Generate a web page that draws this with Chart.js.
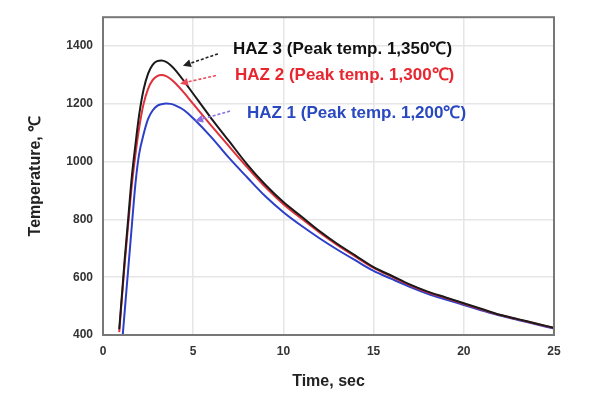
<!DOCTYPE html>
<html>
<head>
<meta charset="utf-8">
<script src="https://cdn.jsdelivr.net/npm/chart.js@4/dist/chart.umd.min.js"></script>
<style>
html,body{margin:0;padding:0;background:#fff;}
#wrap{width:610px;height:402px;position:relative;}
</style>
</head>
<body>
<div id="wrap"><canvas id="c" width="610" height="402"></canvas></div>
<script>
// ---- data ----
const times = [0.9,1.0,1.1,1.2,1.4,1.6,1.8,2.0,2.25,2.5,2.75,3.0,3.25,3.5,3.75,4,4.5,5,6,7,8,9,10,11,12,13,14,15,16,17,18,19,20,21,22,23,24,25];
const haz3 = [420,500,580,660,805,950,1060,1160,1250,1305,1335,1348,1350,1345,1334,1318,1278,1235,1150,1070,990,920,860,810,760,715,675,635,605,575,550,530,510,490,470,455,440,425];
const haz2 = [410,490,568,645,785,920,1025,1115,1200,1252,1282,1296,1300,1296,1286,1272,1238,1200,1125,1052,980,912,853,803,755,711,671,632,602,573,548,528,508,488,469,454,439,424];
const haz1 = [255,330,405,480,630,780,925,1025,1095,1148,1177,1193,1199,1201,1200,1195,1178,1150,1085,1012,945,880,825,778,735,695,658,622,594,567,543,523,504,485,467,452,437,422];
const seriesNames = ["HAZ 3","HAZ 2","HAZ 1"];
const xTicks = [0,5,10,15,20,25];
const yTicks = [400,600,800,1000,1200,1400];

// annotation labels (data coordinates)
const labelTexts = ["HAZ 3 (Peak temp. 1,350\u2103)","HAZ 2 (Peak temp. 1,300\u2103)","HAZ 1 (Peak temp. 1,200\u2103)"];
const labelX = [7.2, 7.32, 7.98];
const labelY = [1390, 1298, 1168];
const arrowFromX = [6.37, 6.26, 7.04];
const arrowFromY = [1373, 1298, 1175];
const arrowToX = [4.43, 4.27, 5.10];
const arrowToY = [1332, 1270, 1141];

const lineColors = ["#1a1a1a","#e0303c","#2b3fc8"];
const textColors = ["#111111","#e8262f","#2a48c0"];
const arrowColors = ["#222222","#e84a5a","#8a6fe0"];

function pts(ys){ return times.map((t,i)=>({x:t,y:ys[i]})); }

const framePlugin = {
  id:'frame',
  afterDatasetsDraw(chart){
    const {ctx, chartArea:a, scales:{x,y}} = chart;
    ctx.save();
    for(let i=0;i<labelTexts.length;i++){
      const x1=x.getPixelForValue(arrowFromX[i]), y1=y.getPixelForValue(arrowFromY[i]);
      const x2=x.getPixelForValue(arrowToX[i]), y2=y.getPixelForValue(arrowToY[i]);
      ctx.strokeStyle=arrowColors[i]; ctx.fillStyle=arrowColors[i];
      ctx.lineWidth=1.6; ctx.setLineDash([3,2]);
      const ang=Math.atan2(y2-y1,x2-x1);
      const hx=x2-7*Math.cos(ang), hy=y2-7*Math.sin(ang);
      ctx.beginPath(); ctx.moveTo(x1,y1); ctx.lineTo(hx,hy); ctx.stroke();
      ctx.setLineDash([]);
      ctx.beginPath();
      ctx.moveTo(x2,y2);
      ctx.lineTo(x2-8*Math.cos(ang)+4*Math.sin(ang), y2-8*Math.sin(ang)-4*Math.cos(ang));
      ctx.lineTo(x2-8*Math.cos(ang)-4*Math.sin(ang), y2-8*Math.sin(ang)+4*Math.cos(ang));
      ctx.closePath(); ctx.fill();
      ctx.font="bold 17px 'Liberation Sans', Arial, sans-serif";
      ctx.fillStyle=textColors[i]; ctx.textAlign='left'; ctx.textBaseline='middle';
      ctx.fillText(labelTexts[i], x.getPixelForValue(labelX[i]), y.getPixelForValue(labelY[i]));
    }
    ctx.strokeStyle="#777"; ctx.lineWidth=2;
    ctx.strokeRect(a.left, a.top, a.right-a.left, a.bottom-a.top);
    ctx.restore();
  }
};

new Chart(document.getElementById('c'), {
  type:'line',
  data:{
    datasets:[
      {label:seriesNames[0], data:pts(haz3), borderColor:lineColors[0], borderWidth:2},
      {label:seriesNames[1], data:pts(haz2), borderColor:lineColors[1], borderWidth:2},
      {label:seriesNames[2], data:pts(haz1), borderColor:lineColors[2], borderWidth:2}
    ]
  },
  options:{
    responsive:false, animation:false,
    layout:{padding:{top:13,right:56,left:0,bottom:0}},
    elements:{point:{radius:0}, line:{cubicInterpolationMode:'monotone', fill:false}},
    plugins:{legend:{display:false}, tooltip:{enabled:false}},
    scales:{
      x:{type:'linear', min:0, max:25,
        afterBuildTicks(s){ s.ticks = xTicks.map(v=>({value:v})); },
        afterFit(s){ s.height=67; },
        grid:{color:'#e6e6e6', drawTicks:false, lineWidth:1.5},
        border:{display:false},
        ticks:{padding:9, color:'#333', callback:v=>String(v), font:{family:"'Liberation Sans', Arial", size:12, weight:'bold'}},
        title:{display:true, text:'Time, sec', color:'#222', padding:{top:0,bottom:11},
               font:{family:"'Liberation Sans', Arial", size:16, weight:'bold'}}
      },
      y:{type:'linear', min:400, max:1500,
        afterBuildTicks(s){ s.ticks = yTicks.map(v=>({value:v})); },
        afterFit(s){ s.width=103; },
        grid:{color:'#e6e6e6', drawTicks:false, lineWidth:1.5},
        border:{display:false},
        ticks:{padding:10, color:'#333', callback:v=>String(v), font:{family:"'Liberation Sans', Arial", size:12, weight:'bold'}},
        title:{display:true, text:'Temperature, \u2103', color:'#222', padding:{top:26,bottom:0},
               font:{family:"'Liberation Sans', Arial", size:16, weight:'bold'}}
      }
    }
  },
  plugins:[framePlugin]
});
</script>
</body>
</html>
